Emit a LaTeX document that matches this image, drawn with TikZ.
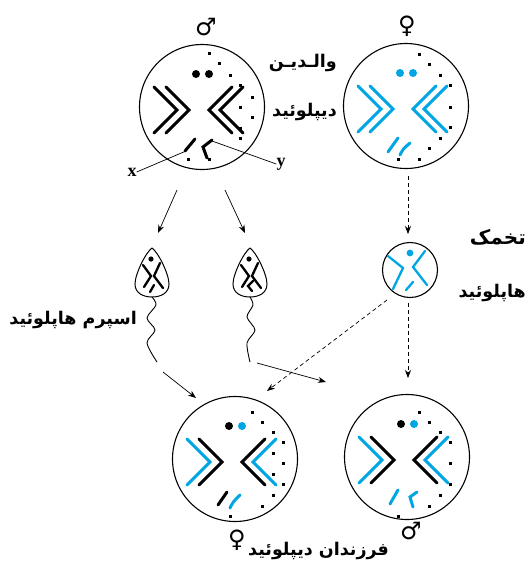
\documentclass[tikz,border=0pt]{standalone}
\usepackage{fontspec}
\usetikzlibrary{arrows.meta}
\TeXXeTstate=1
\newfontfamily\fa[Script=Arabic]{DejaVu Sans}
\newfontfamily\symf{DejaVu Sans}
\newfontfamily\labf{Liberation Serif}
\definecolor{cy}{RGB}{0,166,228}
\newcommand\bigchr[4]{%
  \draw[chr,#1] (-48,-20) -- (-25,3) -- (-48,26);
  \draw[chr,#2] (-36,-20) -- (-13,3) -- (-36,26);
  \draw[chr,#3] (30,-20) -- (7,3) -- (30,26);
  \draw[chr,#4] (41,-20) -- (18,3) -- (41,26);}
\newcommand\nuc[2]{%
  \fill[#1] (-6,-33) circle (4);
  \fill[#2] (7,-33) circle (4);}
\newcommand\sqdots[1]{%
  \foreach \p in {#1} {\fill[shift={\p}] (-1.5,-1.5) rectangle (1.5,1.5);}}
\begin{document}
\begin{tikzpicture}[x=1pt,y=-1pt,
  cell/.style={circle,draw,line width=1.1pt,minimum size=125pt,inner sep=0pt},
  chr/.style={line width=3pt,line cap=round,line join=miter},
  schr/.style={line width=2.3pt,line cap=round,line join=miter},
  arr/.style={-{Stealth[length=8pt,width=6pt]},line width=0.7pt},
  darr/.style={arr,dash pattern=on 4pt off 3pt},
  fatext/.style={font=\fa\bfseries\fontsize{17.5}{17.5}\selectfont,inner sep=0pt},
  sym/.style={font=\symf\fontsize{24}{24}\selectfont,inner sep=0pt},
  lab/.style={font=\labf\bfseries\fontsize{18}{18}\selectfont,inner sep=0pt}]
\useasboundingbox (0,0) rectangle (528,566);

% ---------- big cells ----------
\node[cell] (mp) at (202,107) {};
\node[cell] (fp) at (406,106) {};
\node[cell] (c1) at (235,459) {};
\node[cell] (c2) at (407,457) {};
\node[circle,draw,line width=1.1pt,minimum size=55pt,inner sep=0pt] (egg) at (410,270) {};

% male parent
\begin{scope}[shift={(202,107)}]
  \bigchr{black}{black}{black}{black}
  \nuc{black}{black}
  \draw[chr] (-17,44) -- (-7,32);
  \draw[chr] (10,33) -- (1,40) -- (5,51);
  \sqdots{(7,-54),(17,-44),(28,-32),(38,-22),(50,-10),(38,0),(50,10),(38,21),(38,31),(-14,52),(7,52)}
\end{scope}
% female parent
\begin{scope}[shift={(406,106)}]
  \bigchr{cy}{cy}{cy}{cy}
  \nuc{cy}{cy}
  \draw[chr,cy] (-18,46) -- (-8,32);
  \draw[chr,cy] (-6,49) .. controls (-3,43) .. (4,37);
  \sqdots{(13,-52),(23,-42),(34,-31),(44,-21),(44,1),(44,21),(34,32),(23,42),(13,53),(-8,53)}
\end{scope}
% child 1 (female)
\begin{scope}[shift={(235,459)}]
  \bigchr{cy}{black}{black}{cy}
  \nuc{black}{cy}
  \draw[chr] (-17,46) -- (-8,33);
  \draw[chr,cy] (-5,49) .. controls (-2,43) .. (5,36);
  \sqdots{(17,-47),(27,-37),(38,-27),(48,-17),(38,-6),(48,4),(38,15),(48,25),(38,36),(27,47),(-5,57)}
\end{scope}
% child 2 (male)
\begin{scope}[shift={(407,457)}]
  \bigchr{cy}{black}{black}{cy}
  \nuc{black}{cy}
  \draw[chr,cy] (-17,47) -- (-9,33);
  \draw[chr,cy] (10,35) -- (3,40) -- (6,50);
  \sqdots{(12,-45),(22,-35),(33,-25),(43,-15),(43,6),(43,27),(33,38),(22,49),(-9,59)}
\end{scope}
% egg contents
\begin{scope}[shift={(410,270)}]
  \fill[cy] (0,-17) circle (3.4);
  \draw[schr,cy] (-22,-14) -- (-7,-2) -- (-17,19);
  \draw[schr,cy] (15,-19) -- (3,-3) -- (17,15);
  \draw[schr,cy] (-4,20) -- (3,12);
\end{scope}

% ---------- sperms ----------
\begin{scope}[shift={(152,248)}]
  \draw[line width=1pt] (0,0) .. controls (-6,4) and (-17,26) .. (-17,36)
     .. controls (-17,45) and (-9,49) .. (0,49)
     .. controls (9,49) and (17,45) .. (17,36)
     .. controls (17,26) and (6,4) .. (0,0) -- cycle;
  \fill (-1,11) circle (2.6);
  \draw[schr] (-9,17) -- (-1,28) -- (-8,39);
  \draw[schr] (8,15) -- (2,28) -- (11,40);
  \draw[schr] (-2,44) -- (2,37);
  \draw[line width=0.9pt] plot[smooth] coordinates {(0,49) (4,57) (-5,70) (3,82) (-5,95) (5,114)};
\end{scope}
\begin{scope}[shift={(250,248)}]
  \draw[line width=1pt] (0,0) .. controls (-6,4) and (-17,26) .. (-17,36)
     .. controls (-17,45) and (-9,49) .. (0,49)
     .. controls (9,49) and (17,45) .. (17,36)
     .. controls (17,26) and (6,4) .. (0,0) -- cycle;
  \fill (-1,11) circle (2.6);
  \draw[schr] (-9,17) -- (-1,28) -- (-8,39);
  \draw[schr] (8,15) -- (2,28) -- (11,40);
  \draw[schr] (3,33) -- (-2,38) -- (2,43);
  \draw[line width=0.9pt] plot[smooth] coordinates {(0,49) (3,57) (-3,69) (5,82) (-3,95) (0,114)};
\end{scope}

% ---------- connector end points ----------
\coordinate (a1s) at (177,190); \coordinate (a1e) at (158,233);
\coordinate (a2s) at (225,190); \coordinate (a2e) at (245,233);
\coordinate (a3s) at (163,372); \coordinate (a3e) at (196,398);
\coordinate (a4s) at (257,363); \coordinate (a4e) at (326,382);
\coordinate (d1s) at (408,176); \coordinate (d1e) at (408,234);
\coordinate (d2s) at (408,303); \coordinate (d2e) at (408,378);
\coordinate (d3s) at (387,300); \coordinate (d3e) at (267,391);
\coordinate (xs) at (186,151); \coordinate (ys) at (212,141);

\draw[arr] (a1s) -- (a1e);
\draw[arr] (a2s) -- (a2e);
\draw[arr] (a3s) -- (a3e);
\draw[arr] (a4s) -- (a4e);
\draw[darr] (d1s) -- (d1e);
\draw[darr] (d2s) -- (d2e);
\draw[darr] (d3s) -- (d3e);

% x / y labels
\node[lab] (xl) at (132,172) {x};
\node[lab] (yl) at (281,164) {y};
\draw[line width=0.7pt] (xl.east) -- (xs);
\draw[line width=0.7pt] (yl.west) -- (ys);

% ---------- symbols ----------
\node[sym] (ms1) at (206,27) {♂};
\node[sym] (fs1) at (407,26) {♀};
\node[sym] (fs2) at (237,540) {♀};
\node[sym] (ms2) at (411,531) {♂};

% ---------- texts ----------
\node[fatext,anchor=east] (tw) at (337,63) {\beginR والـدیـن\endR};
\node[fatext,anchor=east] (td) at (337,112) {\beginR دیپلوئید\endR};
\node[fatext,anchor=east,font=\fa\bfseries\fontsize{20}{20}\selectfont] (te) at (526,237) {\beginR تخمک\endR};
\node[fatext,anchor=east] (th) at (526,293) {\beginR هاپلوئید\endR};
\node[fatext,anchor=east] (ts) at (137,320) {\beginR اسپرم هاپلوئید\endR};
\node[fatext,anchor=west] (tc) at (248,551) {\beginR فرزندان دیپلوئید\endR};
\end{tikzpicture}
\end{document}
